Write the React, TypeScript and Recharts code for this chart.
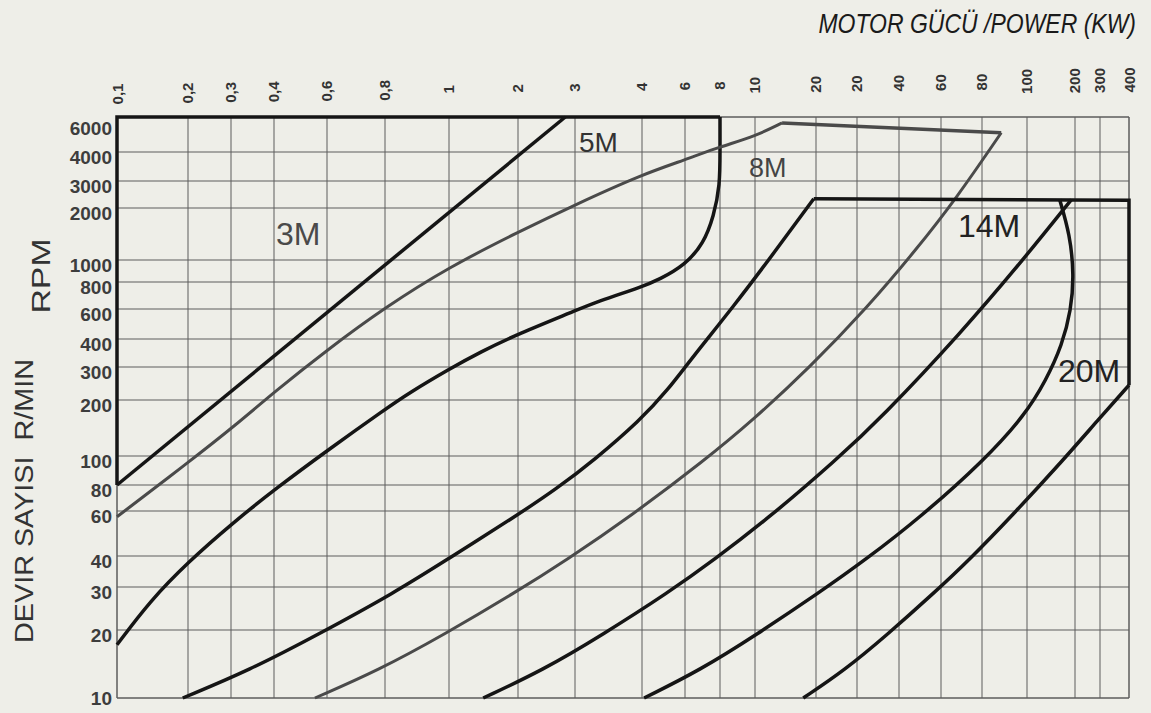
import React from 'react';
import { LineChart, Line, XAxis, YAxis, CartesianGrid, ReferenceArea } from 'recharts';

// power marks printed along the top (kW). The sheet prints "20" twice; the second mark is 30 kW.
const powerMarks = [0.1, 0.2, 0.3, 0.4, 0.6, 0.8, 1, 2, 3, 4, 6, 8, 10, 20, 30, 40, 60, 80, 100, 200, 300, 400];
const powerLabels = ['0,1', '0,2', '0,3', '0,4', '0,6', '0,8', '1', '2', '3', '4', '6', '8', '10', '20', '20', '40', '60', '80', '100', '200', '300', '400'];
// the printed grid is hand spaced, so each mark has its own place along the sheet
const powerMarkPos = [0, 71, 114, 157, 210, 268, 332, 401, 458, 525, 568, 603, 638, 699, 740, 782, 824, 865, 910, 958, 983, 1012];

const rpmMarks = [10, 20, 30, 40, 60, 80, 100, 200, 300, 400, 600, 800, 1000, 2000, 3000, 4000, 6000];
const rpmMarkPos = [0, 68, 111, 142, 187, 213, 242, 298, 331, 359, 389, 416, 438, 490, 517, 546, 581];

// [kW, rpm]
const frame3M = [[0.1, 80], [0.1, 6000], [8, 6000]];
const line3M = [[2.8, 6000], [0.1, 80]];
const curve5M = [
  [8, 6000], [8, 4100], [8, 2800], [7.6, 1800], [7.0, 1250], [6, 950], [4.7, 820], [4, 760],
  [3.3, 650], [3, 585], [2, 428], [1.37, 350], [1, 292], [0.87, 218], [0.8, 178], [0.61, 110],
  [0.406, 77], [0.304, 54], [0.2, 37.8], [0.138, 26.3], [0.1, 17.2],
];
const curve8M = [
  [13.6, 5600], [10, 4800], [8, 4250], [6, 3700], [4, 3200], [3, 2100], [2, 1450], [1, 930],
  [0.8, 610], [0.6, 357], [0.4, 220], [0.31, 147], [0.2, 95], [0.1, 57],
];
const top8M = [[13.6, 5600], [88, 5000]];
const diag8M = [
  [88, 5000], [66.7, 2300], [47, 1140], [32.3, 613], [18.7, 300], [9.87, 156], [7.07, 97],
  [3.8, 57], [2.82, 38.5], [1.96, 28.6], [0.98, 19], [0.776, 13.3], [0.547, 10],
];
const frame14M = [[19.5, 2300], [400, 2250], [400, 240]];
const curve14M = [
  [19.5, 2300], [12.7, 1140], [8.7, 613], [6.35, 329], [5.1, 226], [3.97, 156], [3.26, 97],
  [2.64, 77], [1.94, 57], [0.99, 38.5], [0.83, 28.6], [0.556, 19], [0.34, 13.3], [0.19, 10],
];
const curve20M = [
  [160, 2280], [186, 1400], [197, 860], [189, 592], [166, 376], [132, 256], [99, 166], [81, 97],
  [49.5, 57], [31.7, 38.5], [20.8, 28.6], [10.1, 19], [6.8, 13.3], [4.08, 10],
];
const split14M20M = [
  [190, 2270], [98, 1000], [69, 434], [35.6, 162], [24.4, 97], [11.9, 57], [7.6, 38.5],
  [5.16, 28.6], [3.37, 19], [2.39, 13.3], [1.41, 10],
];
const edge20M = [
  [400, 240], [290, 156], [169, 97], [92.4, 57], [73, 38.5], [56.6, 28.6], [36.8, 19],
  [26.6, 13.3], [17.3, 10],
];

const SHEET_W = powerMarkPos[powerMarkPos.length - 1];
const SHEET_H = rpmMarkPos[rpmMarkPos.length - 1];

const logInterp = (v: number, marks: number[], pos: number[]) => {
  let i = 0;
  while (i < marks.length - 2 && v > marks[i + 1]) i++;
  const a = Math.log(marks[i]);
  const b = Math.log(marks[i + 1]);
  return pos[i] + ((Math.log(v) - a) / (b - a)) * (pos[i + 1] - pos[i]);
};

const toSheet = (pts: number[][]) =>
  pts.map(([kw, rpm]) => ({
    x: logInterp(kw, powerMarks, powerMarkPos),
    y: logInterp(rpm, rpmMarks, rpmMarkPos),
  }));

const INK = '#151515';
const GREY = '#4a4a4a';
const FONT = '"Liberation Sans", Arial, sans-serif';

const PowerTick = (props: any) => {
  const { x, payload } = props;
  const i = powerMarkPos.indexOf(payload.value);
  const cy = 94 - (14 * payload.value) / SHEET_W;
  return (
    <text
      x={x}
      y={cy}
      transform={`rotate(-90 ${x} ${cy})`}
      textAnchor="middle"
      dominantBaseline="central"
      fontSize={15}
      fontWeight="bold"
      fontFamily={FONT}
      fill="#333"
    >
      {powerLabels[i]}
    </text>
  );
};

const RpmTick = (props: any) => {
  const { y, payload } = props;
  const i = rpmMarkPos.indexOf(payload.value);
  const dy = payload.value === SHEET_H ? 11 : payload.value === 0 ? 0 : 5;
  return (
    <text x={112} y={y + dy} textAnchor="end" dominantBaseline="central" fontSize={19} fontWeight="bold" fontFamily={FONT} fill="#3d3d3d">
      {rpmMarks[i]}
    </text>
  );
};

const lineProps = { dataKey: 'y', dot: false, activeDot: false, isAnimationActive: false } as const;

export default function App() {
  return (
    <div style={{ position: 'absolute', left: 0, top: 0, width: 1151, height: 713, background: '#eeeee8', fontFamily: FONT }}>
      <LineChart width={1151} height={713} margin={{ top: 77, right: 22, bottom: 15, left: 57 }}>
        <CartesianGrid stroke="#5c5c5c" strokeWidth={1} />
        <XAxis
          type="number"
          dataKey="x"
          orientation="top"
          domain={[0, SHEET_W]}
          ticks={powerMarkPos}
          interval={0}
          height={40}
          axisLine={false}
          tickLine={false}
          tick={PowerTick}
        />
        <YAxis
          type="number"
          domain={[0, SHEET_H]}
          ticks={rpmMarkPos}
          interval={0}
          width={60}
          axisLine={false}
          tickLine={false}
          tick={RpmTick}
        />
        <ReferenceArea x1={0} x2={SHEET_W} y1={0} y2={SHEET_H} fill="none" stroke="#5c5c5c" strokeWidth={1} />

        <Line {...lineProps} data={toSheet(frame3M)} type="linear" stroke={INK} strokeWidth={3.5} />
        <Line {...lineProps} data={toSheet(line3M)} type="linear" stroke={INK} strokeWidth={3.5} />
        <Line {...lineProps} data={toSheet(curve5M)} type="basis" stroke={INK} strokeWidth={3.5} />

        <Line {...lineProps} data={toSheet(curve8M)} type="basis" stroke={GREY} strokeWidth={3} />
        <Line {...lineProps} data={toSheet(top8M)} type="linear" stroke={GREY} strokeWidth={3.5} />
        <Line {...lineProps} data={toSheet(diag8M)} type="basis" stroke={GREY} strokeWidth={3} />

        <Line {...lineProps} data={toSheet(frame14M)} type="linear" stroke={INK} strokeWidth={3.5} />
        <Line {...lineProps} data={toSheet(curve14M)} type="basis" stroke={INK} strokeWidth={3.5} />
        <Line {...lineProps} data={toSheet(curve20M)} type="basis" stroke={INK} strokeWidth={3.5} />
        <Line {...lineProps} data={toSheet(split14M20M)} type="basis" stroke={INK} strokeWidth={3.5} />
        <Line {...lineProps} data={toSheet(edge20M)} type="basis" stroke={INK} strokeWidth={3.5} />
      </LineChart>

      <svg width={1151} height={713} style={{ position: 'absolute', left: 0, top: 0, pointerEvents: 'none' }} fontFamily={FONT}>
        <text x={1136} y={33} textAnchor="end" fontSize={23} fontStyle="italic" fill="#1a1a1a" transform="translate(0 33) scale(1 1.2) translate(0 -33)">
          MOTOR GÜCÜ /POWER (KW)
        </text>
        <text transform="translate(50 276) rotate(-90) scale(1.3 1)" textAnchor="middle" fontSize={26} fill="#333">
          RPM
        </text>
        <text transform="translate(33 501) rotate(-90) scale(1.15 1)" textAnchor="middle" fontSize={25} fill="#333" style={{ whiteSpace: 'pre' }}>
          {'DEVIR SAYISI  R/MIN'}
        </text>
        <text x={276} y={245} fontSize={32} fill="#4a4a4a">3M</text>
        <text x={579} y={152} fontSize={28} fill="#333">5M</text>
        <text x={749} y={177} fontSize={27} fill="#444">8M</text>
        <text x={958} y={237} fontSize={32} fill="#222">14M</text>
        <text x={1058} y={382} fontSize={32} fill="#222">20M</text>
      </svg>
    </div>
  );
}
